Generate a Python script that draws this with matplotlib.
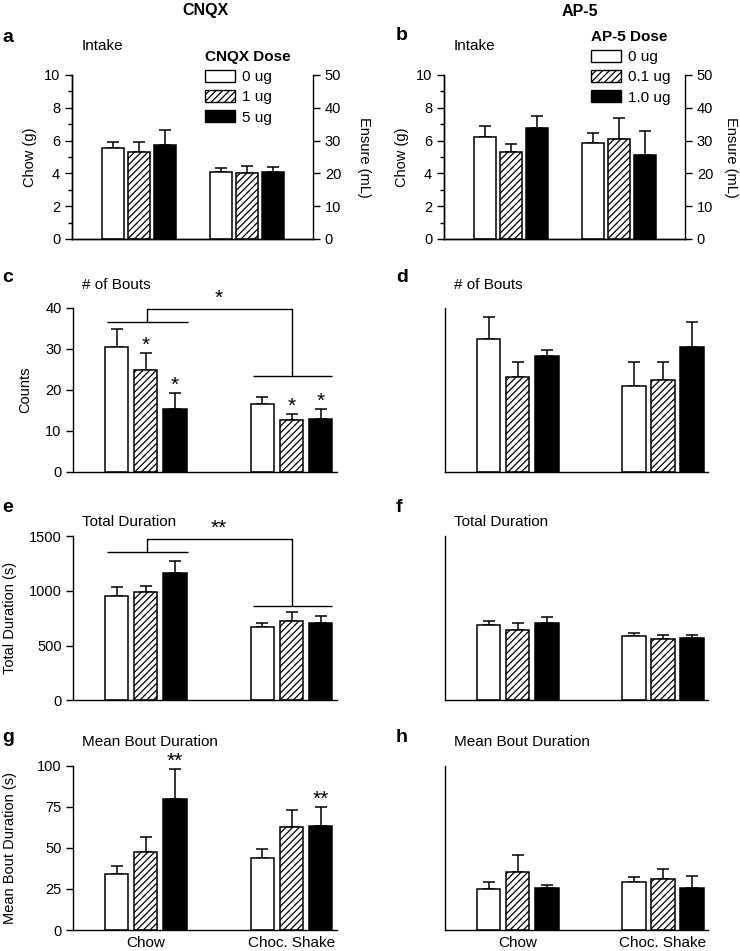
import numpy as np
import matplotlib
matplotlib.use('Agg')
import matplotlib.pyplot as plt
from matplotlib.patches import Patch

plt.rcParams['font.family'] = ['Liberation Sans', 'DejaVu Sans']
plt.rcParams['hatch.linewidth'] = 0.9
plt.rcParams['axes.linewidth'] = 1.0

# data
groups = ['Chow', 'Choc. Shake']
cnqx_doses = ['0 ug', '1 ug', '5 ug']
ap5_doses = ['0 ug', '0.1 ug', '1.0 ug']

# intake: chow in g (left axis), ensure in mL (right axis)
cnqx_chow_g = [5.53, 5.3, 5.73]
cnqx_chow_g_err = [0.4, 0.63, 0.92]
cnqx_ensure_ml = [20.3, 20.0, 20.5]
cnqx_ensure_ml_err = [1.2, 2.2, 1.4]
ap5_chow_g = [6.2, 5.3, 6.75]
ap5_chow_g_err = [0.7, 0.5, 0.75]
ap5_ensure_ml = [29.2, 30.5, 25.6]
ap5_ensure_ml_err = [3.0, 6.3, 7.2]

# number of bouts  [chow, choc]
cnqx_bouts = [[30.5, 24.8, 15.2], [16.4, 12.6, 12.85]]
cnqx_bouts_err = [[4.2, 4.2, 3.9], [1.9, 1.5, 2.4]]
ap5_bouts = [[32.3, 23.2, 28.2], [20.8, 22.4, 30.5]]
ap5_bouts_err = [[5.5, 3.5, 1.5], [6.0, 4.3, 6.1]]

# total duration (s)
cnqx_total = [[950, 985, 1165], [666, 723, 705]]
cnqx_total_err = [[85, 60, 110], [42, 85, 67]]
ap5_total = [[687, 641, 708], [587, 559, 571]]
ap5_total_err = [[36, 67, 55], [24, 37, 25]]

# mean bout duration (s)
cnqx_mean = [[34.0, 47.3, 79.7], [44.0, 62.9, 63.5]]
cnqx_mean_err = [[5.0, 9.0, 18.5], [5.3, 10.0, 11.5]]
ap5_mean = [[25.0, 35.5, 25.7], [29.4, 30.9, 25.7]]
ap5_mean_err = [[4.4, 10.0, 1.7], [2.9, 6.2, 7.2]]

# significance stars: (group, dose, label)
cnqx_bouts_stars = [(0, 1, '*'), (0, 2, '*'), (1, 1, '*'), (1, 2, '*')]
cnqx_mean_stars = [(0, 2, '**'), (1, 2, '**')]

W, H = 740, 951
fig = plt.figure(figsize=(W / 100, H / 100), dpi=100)

styles = [dict(facecolor='white', hatch=None),
          dict(facecolor='white', hatch='/////'),
          dict(facecolor='black', hatch=None)]


def add_axes(left, top, right, bottom):
    return fig.add_axes([left / W, 1 - bottom / H, (right - left) / W, (bottom - top) / H])


def ftext(x, y, s, **kw):
    fig.text(x / W, 1 - y / H, s, **kw)


def draw_bars(ax, gpos, vals, errs, pitch, width):
    for d in range(3):
        st = styles[d]
        x = gpos + (d - 1) * pitch
        ax.bar(x, vals[d], width, color=st['facecolor'], edgecolor='black',
               hatch=st['hatch'], linewidth=1.1, zorder=2)
        ax.errorbar(x, vals[d], yerr=[[0], [errs[d]]], fmt='none', ecolor='black',
                    elinewidth=1.1, capsize=4.2, capthick=1.1, zorder=1)


def style_axis(ax, show_y=True):
    for s in ['top', 'right']:
        ax.spines[s].set_visible(False)
    ax.tick_params(axis='x', length=0, labelsize=11.5, pad=4)
    ax.tick_params(axis='y', direction='out', length=5, width=1, labelsize=10.5, pad=3)
    if not show_y:
        ax.set_yticks([])


# ---------- intake panels (a, b) ----------
def intake_panel(ax, chow, chow_err, ens, ens_err, ens_label_x):
    ax2 = ax.twinx()
    pitch, width = 0.24, 0.2
    draw_bars(ax, 0, chow, chow_err, pitch, width)
    draw_bars(ax2, 1, ens, ens_err, pitch, width)
    ax.set_xlim(-0.62, 1.61)
    ax.set_ylim(0, 10)
    ax2.set_ylim(0, 50)
    ax.set_yticks(np.arange(0, 11, 2))
    ax.set_yticks(np.arange(1, 10, 2), minor=True)
    ax2.set_yticks(np.arange(0, 51, 10))
    for a in (ax, ax2):
        a.spines['top'].set_visible(False)
        a.set_xticks([])
    ax.spines['right'].set_visible(False)
    ax.tick_params(axis='y', which='both', direction='out', width=1, labelsize=10.5)
    ax.tick_params(axis='y', which='major', length=5)
    ax.tick_params(axis='y', which='minor', length=3)
    ax2.tick_params(axis='y', direction='out', length=5, width=1, labelsize=10.5)
    ax.set_ylabel('Chow (g)', fontsize=10.5, va='center')
    ax.yaxis.set_label_coords(-0.175, 0.5)
    ax2.set_ylabel('Ensure (mL)', fontsize=10.5, rotation=270, va='center')
    ax2.yaxis.set_label_coords(ens_label_x, 0.5)
    return ax2


ax_a = add_axes(72, 75, 313, 239)
intake_panel(ax_a, cnqx_chow_g, cnqx_chow_g_err, cnqx_ensure_ml, cnqx_ensure_ml_err, 1.21)
ax_b = add_axes(444, 75, 685, 239)
intake_panel(ax_b, ap5_chow_g, ap5_chow_g_err, ap5_ensure_ml, ap5_ensure_ml_err, 1.19)

# legends
for title, labels, x0, y0 in [('CNQX Dose', cnqx_doses, 205, 50),
                              ('AP-5 Dose', ap5_doses, 591, 30)]:
    handles = [Patch(facecolor=styles[i]['facecolor'], edgecolor='black',
                     hatch=styles[i]['hatch'], linewidth=1.0, label=labels[i]) for i in range(3)]
    fig.legend(handles=handles, loc='upper left', bbox_to_anchor=(x0 / W, 1 - y0 / H),
               frameon=False, fontsize=11, title=title,
               title_fontproperties={'weight': 'bold', 'size': 11},
               alignment='left', handlelength=1.95, handleheight=0.85,
               labelspacing=0.38, handletextpad=0.5, borderpad=0, borderaxespad=0)


# ---------- bar panels (c-h) ----------
def bar_panel(ax, vals, errs, ylim, yticks, show_y):
    pitch, width = 0.2, 0.16
    for g in range(2):
        draw_bars(ax, g, vals[g], errs[g], pitch, width)
    ax.set_xlim(-0.502, 1.31)
    ax.set_ylim(*ylim)
    style_axis(ax, show_y)
    if show_y:
        ax.set_yticks(yticks)
    ax.set_xticks([0, 1])
    ax.set_xticklabels([])


def add_stars(ax, vals, errs, stars, pitch=0.2):
    for g, d, s in stars:
        x = g + (d - 1) * pitch
        ax.annotate(s, (x, vals[g][d] + errs[g][d]), xytext=(0, 1.5), textcoords='offset points',
                    ha='center', va='baseline', fontsize=15, annotation_clip=False)


def bracket(ax, y_left, y_top, y_right, star):
    kw = dict(color='black', lw=1.0, clip_on=False, solid_capstyle='butt')
    ax.plot([-0.266, 0.29], [y_left, y_left], **kw)
    ax.plot([1 - 0.264, 1.278], [y_right, y_right], **kw)
    ax.plot([0.006, 0.006, 1.0, 1.0], [y_left, y_top, y_top, y_right], **kw)
    ax.annotate(star, (0.5, y_top), xytext=(0, 4), textcoords='offset points',
                ha='center', va='baseline', fontsize=15, annotation_clip=False)


ax_c = add_axes(72.7, 307.7, 336.7, 471.7)
bar_panel(ax_c, cnqx_bouts, cnqx_bouts_err, (0, 40), [0, 10, 20, 30, 40], True)
add_stars(ax_c, cnqx_bouts, cnqx_bouts_err, cnqx_bouts_stars)
bracket(ax_c, 36.6, 39.7, 23.4, '*')
ax_c.set_ylabel('Counts', fontsize=10.5, va='center')
ax_c.yaxis.set_label_coords(-0.18, 0.5)

ax_d = add_axes(445, 307.7, 708, 471.7)
bar_panel(ax_d, ap5_bouts, ap5_bouts_err, (0, 40), None, False)

ax_e = add_axes(72.7, 536, 336.7, 700.3)
bar_panel(ax_e, cnqx_total, cnqx_total_err, (0, 1500), [0, 500, 1000, 1500], True)
bracket(ax_e, 1356, 1472, 863, '**')
ax_e.set_ylabel('Total Duration (s)', fontsize=10.5, va='center')
ax_e.yaxis.set_label_coords(-0.237, 0.5)

ax_f = add_axes(445, 536, 708, 700.3)
bar_panel(ax_f, ap5_total, ap5_total_err, (0, 1500), None, False)

ax_g = add_axes(72.7, 765.7, 336.7, 930)
bar_panel(ax_g, cnqx_mean, cnqx_mean_err, (0, 100), [0, 25, 50, 75, 100], True)
add_stars(ax_g, cnqx_mean, cnqx_mean_err, cnqx_mean_stars)
ax_g.set_ylabel('Mean Bout Duration (s)', fontsize=10.5, va='center')
ax_g.yaxis.set_label_coords(-0.237, 0.5)
ax_g.set_xticklabels(groups, fontsize=11)

ax_h = add_axes(445, 765.7, 708, 930)
bar_panel(ax_h, ap5_mean, ap5_mean_err, (0, 100), None, False)
ax_h.set_xticklabels(groups, fontsize=11)

# column headers, panel letters, panel titles
ftext(205, 11, 'CNQX', ha='center', va='center', fontsize=11.5, fontweight='bold')
ftext(580, 11, 'AP-5', ha='center', va='center', fontsize=11.5, fontweight='bold')

letters = [('a', 2, 38), ('b', 396, 36), ('c', 2, 278), ('d', 396, 278),
           ('e', 2, 507), ('f', 396, 507), ('g', 2, 737), ('h', 396, 737)]
for s, x, y in letters:
    ftext(x, y, s, ha='left', va='center', fontsize=14, fontweight='bold')

titles = [('Intake', 82, 46), ('Intake', 454, 46), ('# of Bouts', 82, 285),
          ('# of Bouts', 454, 285), ('Total Duration', 82, 522), ('Total Duration', 454, 522),
          ('Mean Bout Duration', 82, 742), ('Mean Bout Duration', 454, 742)]
for s, x, y in titles:
    ftext(x, y, s, ha='left', va='center', fontsize=11)

fig.savefig('out.png', dpi=100)
